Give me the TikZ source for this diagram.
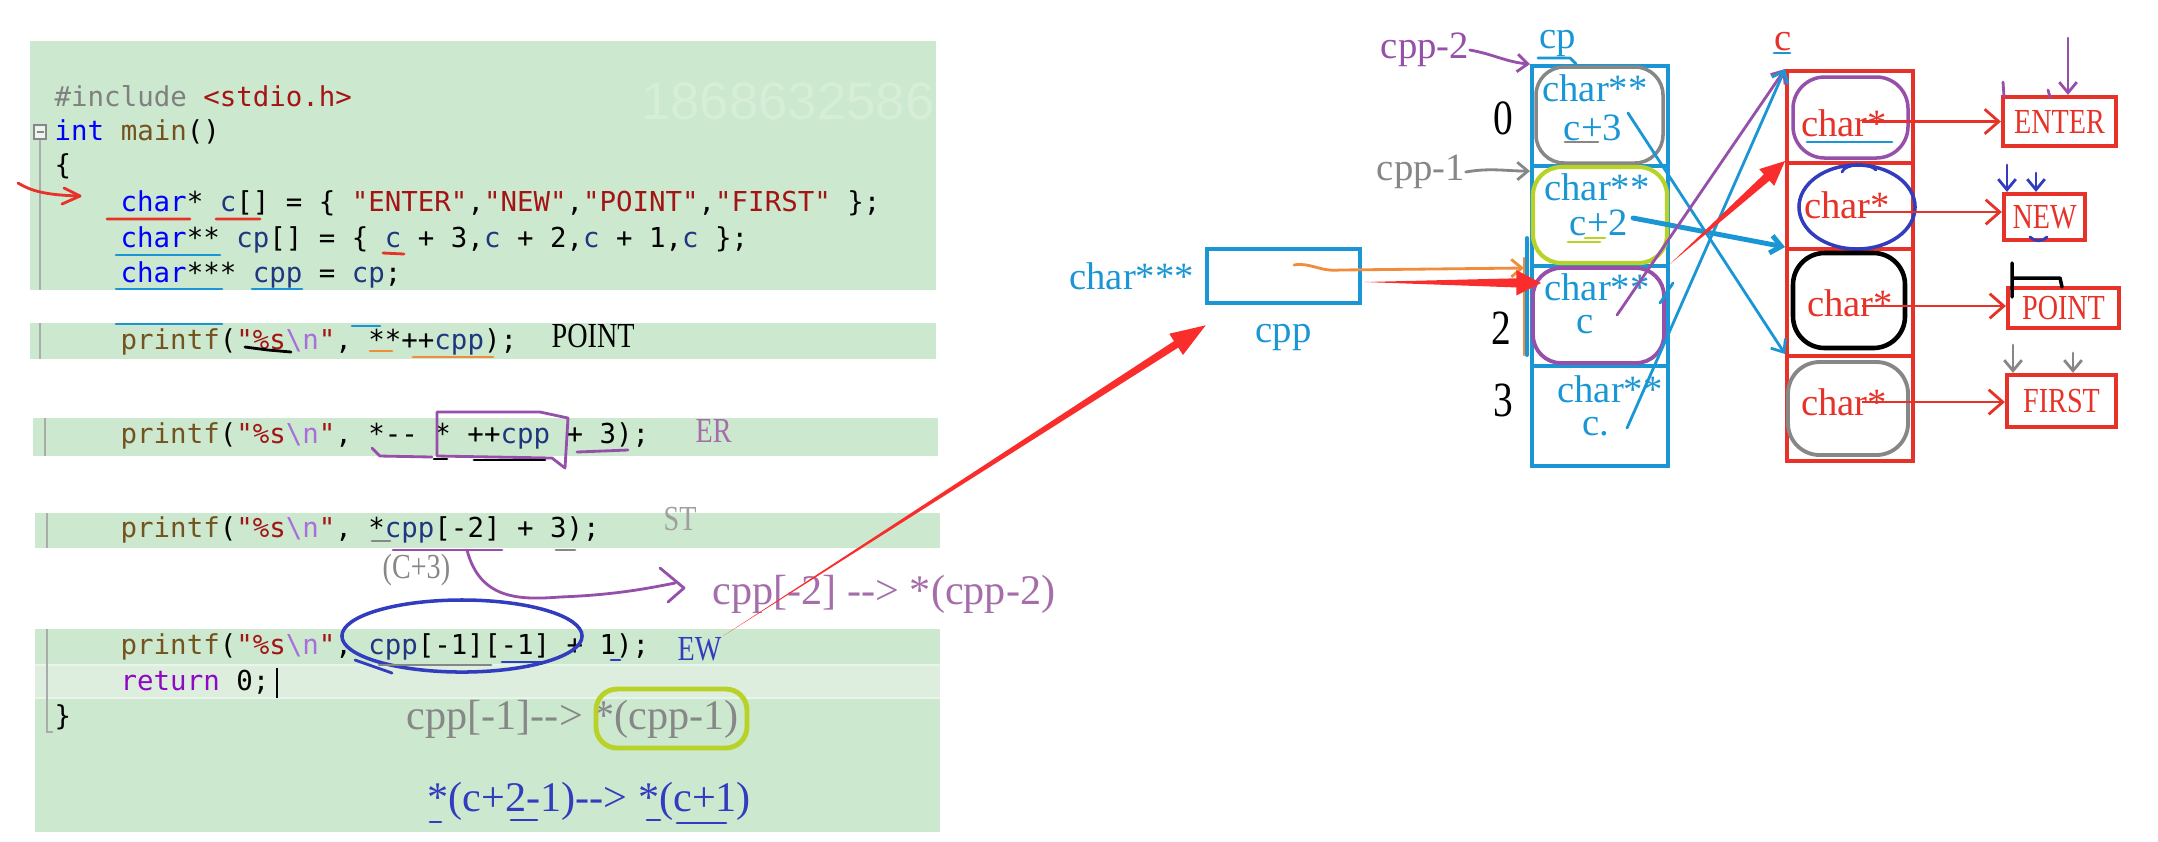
\documentclass[tikz,border=0pt]{standalone}
\usepackage{fontspec}
\setmainfont{Liberation Serif}
\newfontfamily\codefont[Ligatures=TeXOff]{DejaVu Sans Mono}
\newfontfamily\hwfont[Ligatures=TeXOff,FakeStretch=0.8]{Liberation Serif}
\newfontfamily\notefont[Ligatures=TeXOff]{Liberation Serif}
\newfontfamily\markfont{Liberation Sans}
\usetikzlibrary{arrows.meta,calc,positioning}

\definecolor{codebg}{RGB}{204,232,207}
\definecolor{codehl}{RGB}{221,238,222}
\definecolor{kwblue}{RGB}{0,0,255}
\definecolor{varblue}{RGB}{31,55,127}
\definecolor{strred}{RGB}{163,21,21}
\definecolor{fnbrown}{RGB}{116,83,31}
\definecolor{escpurple}{RGB}{170,110,220}
\definecolor{prepgray}{RGB}{128,128,128}
\definecolor{retpurple}{RGB}{143,8,196}
\definecolor{diagblue}{RGB}{27,150,212}
\definecolor{diagred}{RGB}{230,50,40}
\definecolor{arrowred}{RGB}{250,45,45}
\definecolor{penpurple}{RGB}{150,80,170}
\definecolor{notepurple}{RGB}{165,110,170}
\definecolor{pengray}{RGB}{135,135,135}
\definecolor{penlime}{RGB}{185,210,40}
\definecolor{penorange}{RGB}{240,140,60}
\definecolor{penblue}{RGB}{50,60,190}
\definecolor{wmark}{RGB}{214,237,216}

% code tokens
\newcommand\ckw[1]{\textcolor{kwblue}{#1}}
\newcommand\cvar[1]{\textcolor{varblue}{#1}}
\newcommand\cstr[1]{\textcolor{strred}{#1}}
\newcommand\cfn[1]{\textcolor{fnbrown}{#1}}
\newcommand\cfmt{\cstr{"\%s}\textcolor{escpurple}{\textbackslash n}\cstr{"}}

% tapered arrow: [colour]{tail}{tip}{shaft half width}{head half width}{head length}
\newcommand\fatarrow[6][arrowred]{%
  \coordinate (fa-b) at ($(#3)!#6!(#2)$);
  \fill[#1] (#2) -- ($(fa-b)!#4!90:(#3)$) -- ($(fa-b)!#5!90:(#3)$) -- (#3)
    -- ($(fa-b)!#5!-90:(#3)$) -- ($(fa-b)!#4!-90:(#3)$) -- cycle;}

\tikzset{
  code/.style={anchor=west, inner sep=0pt, font=\codefont\fontsize{7.8}{9}\selectfont},
  note/.style={inner sep=0pt, font=\notefont\fontsize{12}{14}\selectfont},
  hw/.style={inner sep=0pt, font=\hwfont\fontsize{10}{12}\selectfont},
  dtext/.style={inner sep=0pt, text=diagblue, font=\fontsize{11}{13}\selectfont},
  ctext/.style={inner sep=0pt, text=diagred, font=\fontsize{11}{13}\selectfont},
  cpcell/.style={draw=diagblue, line width=1.1pt, minimum width=1.36cm, minimum height=1cm, inner sep=0pt},
  ccell/.style={draw=diagred, line width=1.1pt, minimum width=1.26cm, inner sep=0pt},
  strbox/.style={draw=diagred, line width=1.2pt, inner sep=0pt, text=diagred,
    font=\hwfont\fontsize{10}{12}\selectfont},
  pen/.style={line width=0.8pt, line cap=round, line join=round},
  strarrow/.style={diagred, line width=0.8pt, -{Straight Barb[length=4pt,width=7pt]}},
  penarrow/.style={pen, -{Straight Barb[length=3pt,width=5pt]}}
}

\begin{document}
\begin{tikzpicture}[x=0.01cm, y=-0.01cm]
  \useasboundingbox (0,0) rectangle (2158,841);

  % code panels
  \fill[codebg] (30,41) rectangle (936,290);
  \fill[codebg] (30,323) rectangle (936,359);
  \fill[codebg] (33,418) rectangle (938,456);
  \fill[codebg] (35,513) rectangle (940,548);
  \fill[codebg] (35,629) rectangle (940,832);
  \fill[codehl] (35,665) rectangle (940,698);
  \draw[white!55!codebg, line width=0.8pt] (35,665) -- (940,665) (35,698) -- (940,698);
  \node[inner sep=0pt, text=wmark, font=\markfont\fontsize{15}{17}\selectfont] (wm) at (788,101) {1868632586};

  % gutter
  \draw[pengray!70, line width=0.5pt] (40,140) -- (40,290) (40,323) -- (40,359)
    (45,418) -- (45,456) (47,513) -- (47,548) (47,629) -- (47,732) -- (53,732);
  \draw[pengray, line width=0.5pt, fill=white!60!codebg] (34,125) rectangle (46,139);
  \draw[pengray, line width=0.6pt] (36.5,132) -- (43.5,132);

  % code lines
  \node[code] (l1) at (54,96) {\textcolor{prepgray}{\#include} \cstr{<stdio.h>}};
  \node[code] (l2) at (54,132) {\ckw{int} \cfn{main}()};
  \node[code] (l3) at (54,166) {\{};
  \node[code] (l4) at (120,203) {\ckw{char}* \cvar{c}[] = \{ \cstr{"ENTER"},\cstr{"NEW"},\cstr{"POINT"},\cstr{"FIRST"} \};};
  \node[code] (l5) at (120,240) {\ckw{char}** \cvar{cp}[] = \{ \cvar{c} + 3,\cvar{c} + 2,\cvar{c} + 1,\cvar{c} \};};
  \node[code] (l6) at (120,275) {\ckw{char}*** \cvar{cpp} = \cvar{cp};};
  \node[code] (pr1) at (120,342) {\cfn{printf}(\cfmt, **++\cvar{cpp});};
  \node[code] (pr2) at (120,436) {\cfn{printf}(\cfmt, *-- * ++\cvar{cpp} + 3);};
  \node[code] (pr3) at (120,530) {\cfn{printf}(\cfmt, *\cvar{cpp}[-2] + 3);};
  \node[code] (pr4) at (120,647) {\cfn{printf}(\cfmt, \cvar{cpp}[-1][-1] + 1);};
  \node[code] (ret) at (120,682) {\textcolor{retpurple}{return} 0;};
  \node[code] (rbrace) at (54,717) {\}};
  \draw[black, line width=0.6pt] (277,668) -- (277,698);

  % answers and notes
  \node[hw, anchor=west] (a1) at (551,336) {POINT};
  \node[hw, anchor=west, text=notepurple] (a2) at (695,431) {ER};
  \node[hw, anchor=west, text=pengray!80] (a3) at (663,519) {ST};
  \node[hw, anchor=west, text=penblue] (a4) at (677,649) {EW};
  \node[note, anchor=west, text=notepurple] (n1) at (712,594) {cpp[-2] --> *(cpp-2)};
  \node[note, anchor=west, text=pengray] (n2) at (406,719) {cpp[-1]--> *(cpp-1)};
  \node[note, anchor=west, text=penblue] (n3) at (427,801) {*(c+2-1)--> *(c+1)};
  \node[hw, anchor=west, text=pengray] (c3note) at (382,570) {(C+3)};
  \draw[penlime, line width=1.4pt, rounded corners=6pt] (596,689) rectangle (747,748);

  % pen marks on the code
  \draw[pen, diagred] (18,183) .. controls (30,190) and (42,195) .. (80,196);
  \draw[pen, diagred] (64,188) -- (80,196) -- (62,204);
  \draw[pen, diagred] (107,219) -- (190,219) (216,219) -- (260,219) (383,253) -- (404,254);
  \draw[pen, diagblue] (116,255) -- (220,255) (116,289) -- (222,289) (252,289) -- (302,289)
    (116,324) -- (222,324) (352,326) -- (380,326);
  \draw[pen, black] (245,347) -- (268,350) -- (291,352);
  \draw[pen, penorange] (370,351) -- (392,351) (413,357) -- (493,357);
  \draw[pen, penpurple] (437,412) -- (540,412) -- (568,418) -- (565,468) -- (552,458) -- (437,456) -- cycle;
  \draw[pen, penpurple] (372,448) -- (380,456) -- (432,457) (577,452) -- (628,450);
  \draw[pen, black] (434,459) -- (447,459) (474,460) -- (545,460);
  \draw[pen, penpurple] (393,550) -- (502,550);
  \draw[pen, pengray] (372,541) -- (390,541) (556,550) -- (575,550);
  \draw[pen, penpurple] (467,550) .. controls (480,600) and (520,600) .. (560,597)
    .. controls (610,595) and (640,590) .. (675,583);
  \draw[pen, penpurple] (660,568) -- (684,588) -- (668,602);
  \draw[pen, penblue, line width=1pt] (462,636) ellipse (1.2cm and 0.36cm);
  \draw[pen, penblue] (355,660) -- (392,673);
  \draw[pen, pengray] (379,665) -- (491,665);
  \draw[pen, penblue] (502,662) -- (544,662) (611,660) -- (620,660);
  \draw[pen, penblue] (430,822) -- (441,822) (511,820) -- (537,820) (647,820) -- (660,820) (677,823) -- (726,823);

  % cpp
  \node[draw=diagblue, line width=1.3pt, minimum width=1.53cm, minimum height=0.54cm] (cppbox) at (1283.5,276) {};
  \node[dtext, left=0.1cm of cppbox] (cpptype) {char***};
  \node[dtext, below=0.18cm of cppbox] (cppname) {cpp};

  % cp array
  \foreach \i in {0,...,3}
    \node[cpcell] (cp\i) at (1600,{116+100*\i}) {};
  \draw[pengray, line width=1pt, rounded corners=8pt] (1536,67) rectangle (1663,163);
  \draw[penlime, line width=1.2pt, rounded corners=8pt] (1533,167) rectangle (1667,263);
  \draw[penpurple, line width=1.1pt, rounded corners=8pt] (1533,268) rectangle (1664,363);
  \node[dtext] (t0) at (1595,88) {char**};
  \node[dtext] (v0) at (1593,128) {c+3};
  \node[dtext] (t1) at (1597,187) {char**};
  \node[dtext] (v1) at (1599,223) {c+2};
  \node[dtext] (t2) at (1597,287) {char**};
  \node[dtext] (v2) at (1585,325) {c};
  \node[dtext] (t3) at (1610,389) {char**};
  \node[dtext] (v3) at (1596,427) {c.};
  \draw[pen, pengray] (1565,142) -- (1598,142);
  \draw[pen, penlime] (1568,242) -- (1600,242) (1585,238) -- (1605,238);
  \draw[pen, diagblue, line width=1.1pt] (1532,67) -- (1532,135) (1527,238) -- (1527,355);
  \draw[pen, penorange] (1524,258) -- (1524,355);
  \node[dtext] (cplabel) at (1558,43) {cp};
  \draw[pen, diagblue] (1538,58) -- (1570,58) -- (1576,64);
  \node[hw, font=\hwfont\fontsize{14}{16}\selectfont] (k0) at (1503,118) {0};
  \node[hw, font=\hwfont\fontsize{14}{16}\selectfont] (k2) at (1501,328) {2};
  \node[hw, font=\hwfont\fontsize{14}{16}\selectfont] (k3) at (1503,400) {3};
  \node[dtext, text=penpurple] (cppm2) at (1425,50) {cpp-2};
  \node[dtext, text=pengray] (cppm1) at (1421,172) {cpp-1};
  \coordinate (cp1top) at ($(cp1.north west)+(0,7)$);
  \draw[penarrow, penpurple] (cppm2.east) to[out=-10, in=175] (cp0.north west);
  \draw[penarrow, pengray] (cppm1.east) to[out=10, in=180] (cp1top);

  % c array
  \node[ccell, minimum height=0.92cm] (c0) at (1850,117) {};
  \node[ccell, minimum height=0.86cm] (c1) at (1850,206) {};
  \node[ccell, minimum height=1.07cm] (c2) at (1850,302.5) {};
  \node[ccell, minimum height=1.05cm] (c3) at (1850,408.5) {};
  \draw[penpurple, line width=1pt, rounded corners=9pt] (1793,77) rectangle (1908,158);
  \draw[penblue, line width=1pt] (1857,207) ellipse (0.58cm and 0.42cm);
  \draw[pen, penblue] (1842,172) .. controls (1845,163) and (1870,163) .. (1876,170);
  \draw[black, line width=1.3pt, rounded corners=9pt] (1793,253) rectangle (1905,348);
  \draw[pengray, line width=1.1pt, rounded corners=9pt] (1788,362) rectangle (1908,455);
  \node[ctext] (ch0) at (1844,123) {char*};
  \node[ctext] (ch1) at (1847,205) {char*};
  \node[ctext] (ch2) at (1850,303) {char*};
  \node[ctext] (ch3) at (1844,402) {char*};
  \draw[pen, diagblue] (1807,142) -- (1892,142);
  \node[ctext] (clabel) at (1783,42) {c};
  \draw[pen, diagblue] (1774,53) -- (1790,53);

  % strings
  \node[strbox, minimum width=1.13cm, minimum height=0.49cm] (s0) at (2059.5,121.5) {ENTER};
  \node[strbox, minimum width=0.81cm, minimum height=0.46cm] (s1) at (2044.5,217) {NEW};
  \node[strbox, minimum width=1.11cm, minimum height=0.40cm] (s2) at (2063.5,308) {POINT};
  \node[strbox, minimum width=1.09cm, minimum height=0.52cm] (s3) at (2061.5,401) {FIRST};
  \coordinate (cs0) at (1862,121.5);
  \coordinate (cs1) at (1862,212);
  \coordinate (cs2) at (1862,306);
  \coordinate (cs3) at (1862,402);
  \foreach \i in {0,...,3}
    \draw[strarrow] (cs\i) -- (cs\i -| s\i.west);

  % pen arrows on the strings
  \coordinate (pe0) at (2068,38);
  \draw[penarrow, penpurple] (pe0) -- (pe0 |- s0.north);
  \draw[pen, penpurple] (2003,82) -- (2004,97) (2048,90) -- (2050,97);
  \coordinate (pn0) at (2007,165);
  \coordinate (pn1) at (2036,173);
  \draw[penarrow, penblue] (pn0) -- (pn0 |- s1.north);
  \draw[penarrow, penblue] (pn1) -- (pn1 |- s1.north);
  \draw[pen, penblue] (2030,237) .. controls (2035,242) and (2042,242) .. (2047,237);
  \draw[pen, black, line width=1pt] (2012,263) -- (2012,297) (2012,278) -- (2060,278) -- (2062,287);
  \coordinate (pf0) at (2013,345);
  \coordinate (pf1) at (2073,353);
  \draw[penarrow, pengray] (pf0) -- (pf0 |- s3.north);
  \draw[penarrow, pengray] (pf1) -- (pf1 |- s3.north);

  % cp -> c
  \coordinate (p0) at (1628,113);
  \coordinate (p1) at (1633,218);
  \coordinate (p2) at (1617,315);
  \coordinate (p3) at (1627,428);
  \draw[penarrow, diagblue] (p0) -- (c3.north west);
  \draw[penarrow, diagblue, line width=1.4pt] (p1) -- (c2.north west);
  \draw[penarrow, penpurple] (p2) -- (c0.north west);
  \draw[penarrow, diagblue] (p3) -- (c0.north west);
  \draw[pen, diagblue] (1660,303) -- (1673,283);

  % cpp -> cp, and the hint arrows
  \coordinate (orstart) at (1294,265);
  \coordinate (cptip) at (1541,283);
  \draw[penarrow, penorange] (orstart) .. controls (1310,262) and (1320,272) .. (1340,270)
    -- (1524,268);
  \coordinate (cpptail) at ($(cppbox.east)+(2,6)$);
  \fatarrow{cpptail}{cptip}{1.3pt}{3.6pt}{7pt}
  \coordinate (cp1tail) at ($(cp1.south east)+(0,-4)$);
  \fatarrow{cp1tail}{c1.north west}{1.2pt}{3.2pt}{7pt}
  \coordinate (ewtail) at (723,636);
  \coordinate (cppnear) at ($(cppbox.south west)+(1,20)$);
  \fatarrow{ewtail}{cppnear}{1.1pt}{3.6pt}{10pt}
\end{tikzpicture}
\end{document}
